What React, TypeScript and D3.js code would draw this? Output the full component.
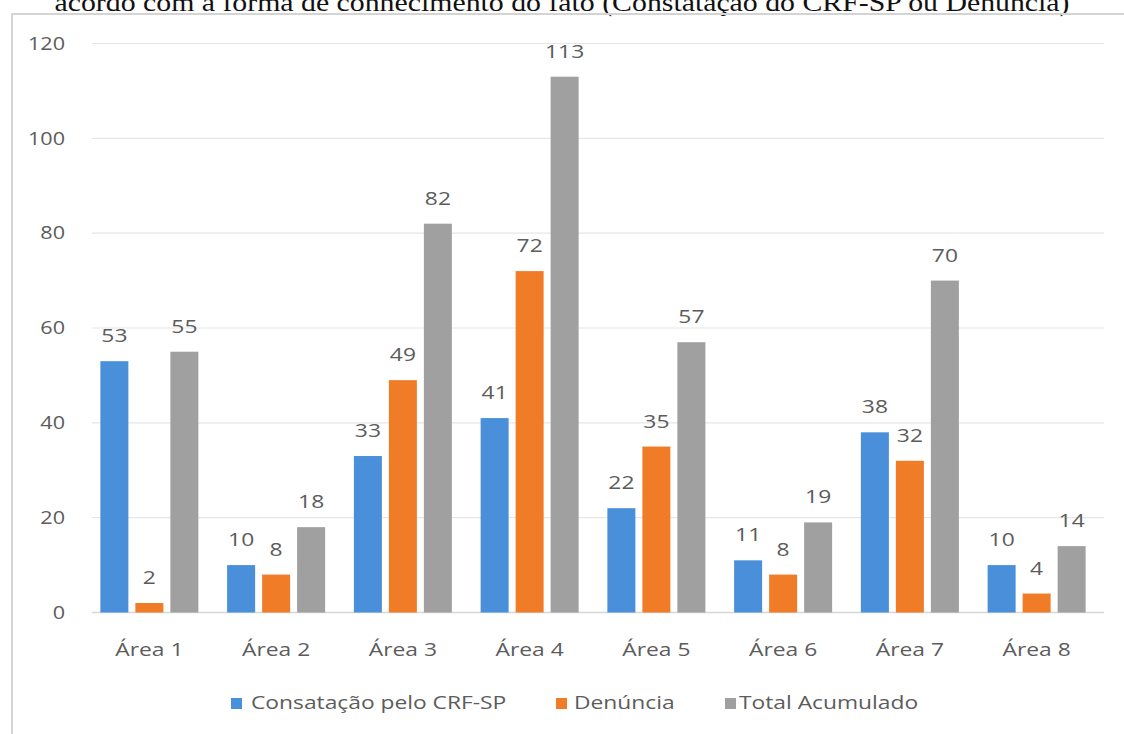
import React from "react";
import * as d3 from "d3";

const categories = ["Área 1", "Área 2", "Área 3", "Área 4", "Área 5", "Área 6", "Área 7", "Área 8"];
const constatacao = [53, 10, 33, 41, 22, 11, 38, 10];
const denuncia = [2, 8, 49, 72, 35, 8, 32, 4];
const totalAcumulado = [55, 18, 82, 113, 57, 19, 70, 14];
const seriesNames = ["Consatação pelo CRF-SP", "Denúncia", "Total Acumulado"];
const seriesColors = ["#4a8fd9", "#f07c28", "#a0a0a0"];
const yTicks = [0, 20, 40, 60, 80, 100, 120];
const title = "acordo com a forma de conhecimento do fato (Constatação do CRF-SP ou Denúncia)";

const W = 1124;
const H = 734;
const font = "'Open Sans', 'Noto Sans', sans-serif";

// Text drawn slightly wide, as the chart's UI font is
function Label(props: { x: number; y: number; anchor?: string; size?: number; dy?: string; children: any }) {
  const { x, y, anchor = "middle", size = 19, dy, children } = props;
  return (
    <text
      transform={`translate(${x},${y}) scale(1.2,1)`}
      textAnchor={anchor}
      dy={dy}
      fontFamily={font}
      fontSize={size}
      fill="#5c5c5c"
    >
      {children}
    </text>
  );
}

export default function App() {
  const series = [constatacao, denuncia, totalAcumulado];

  const x = d3.scaleBand<string>().domain(categories).range([86, 1100]).padding(0);
  const xSub = d3.scaleBand<number>().domain([0, 1, 2]).range([0, 98]).paddingInner(0.2).paddingOuter(0);
  const y = d3.scaleLinear().domain([0, 120]).range([612.5, 43.5]);

  const legendItems = [
    { sq: 231, tx: 251 },
    { sq: 556, tx: 574 },
    { sq: 725, tx: 739 },
  ];

  return (
    <div style={{ position: "absolute", left: 0, top: 0, width: W, height: H, background: "#fff" }}>
      <svg width={W} height={H} style={{ display: "block" }}>
        <rect x={0} y={0} width={W} height={H} fill="#fff" />
        <text
          x={W / 2}
          y={11}
          textAnchor="middle"
          fontFamily="'Liberation Serif', 'DejaVu Serif', serif"
          fontSize={26}
          fill="#111"
          textLength={1015}
          lengthAdjust="spacingAndGlyphs"
        >
          {title}
        </text>
        {/* chart frame */}
        <path d={`M12,${H + 5} L12,14 L${W + 5},14`} fill="none" stroke="#d4d4d4" strokeWidth={2} />

        {/* gridlines */}
        {yTicks.map((t) => (
          <line
            key={t}
            x1={92}
            x2={1104}
            y1={y(t)}
            y2={y(t)}
            stroke={t === 0 ? "#d6d6d6" : "#e6e6e6"}
            strokeWidth={t === 0 ? 1.5 : 1.2}
          />
        ))}
        {yTicks.map((t) => (
          <Label key={"l" + t} x={65} y={y(t)} dy="0.35em" anchor="end" size={18}>
            {t}
          </Label>
        ))}

        {/* bars */}
        {categories.map((c, i) => {
          const cx = (x(c) ?? 0) + x.bandwidth() / 2 - 49;
          return (
            <g key={c} transform={`translate(${cx},0)`}>
              {series.map((s, k) => {
                const v = s[i];
                const bx = xSub(k) ?? 0;
                return (
                  <g key={k}>
                    <rect
                      x={bx}
                      y={y(v)}
                      width={xSub.bandwidth()}
                      height={y(0) - y(v)}
                      fill={seriesColors[k]}
                    />
                    <Label x={bx + xSub.bandwidth() / 2} y={y(v) - 19}>
                      {v}
                    </Label>
                  </g>
                );
              })}
            </g>
          );
        })}

        {/* category labels */}
        {categories.map((c) => (
          <Label key={"c" + c} x={(x(c) ?? 0) + x.bandwidth() / 2} y={656}>
            {c}
          </Label>
        ))}

        {/* legend */}
        {seriesNames.map((n, k) => (
          <g key={n}>
            <rect x={legendItems[k].sq} y={698} width={11} height={11} fill={seriesColors[k]} />
            <Label x={legendItems[k].tx} y={709} anchor="start">
              {n}
            </Label>
          </g>
        ))}
      </svg>
    </div>
  );
}
